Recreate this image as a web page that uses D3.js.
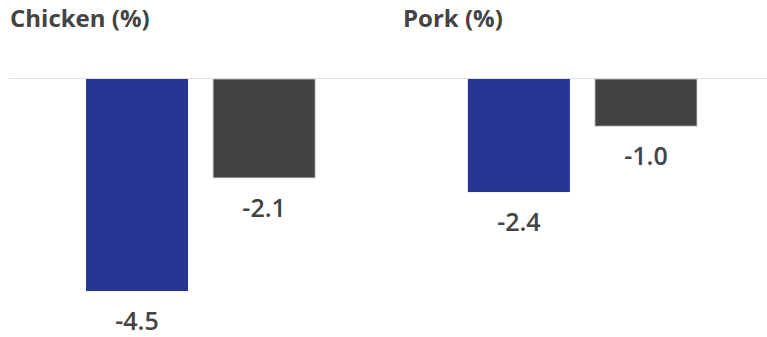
<!DOCTYPE html>
<html>
<head>
<meta charset="utf-8">
<script src="https://cdn.jsdelivr.net/npm/d3@7"></script>
<style>
  html, body { margin: 0; padding: 0; background: #fff; }
  svg { display: block; }
  text { font-family: "Open Sans", sans-serif; fill: #444; }
</style>
</head>
<body>
<svg id="chart" width="767" height="337"></svg>
<script>
// Panels and their values (% change)
const categories = ["Chicken (%)", "Pork (%)"];
const seriesKeys = ["a", "b"];
const seriesA = [-4.5, -2.4];
const seriesB = [-2.1, -1.0];
const seriesColors = ["#283593", "#424242"];

const rows = categories.map((c, i) => ({ category: c, values: [seriesA[i], seriesB[i]] }));

const svg = d3.select("#chart");
const width = 767;

// Plain hyphen for negative numbers
const fmt = d3.formatLocale({ decimal: ".", thousands: ",", grouping: [3], currency: ["", ""], minus: "-" }).format(".1f");

// Outer scale places each panel, inner scale places bars within a panel
const x0 = d3.scaleBand().domain(categories).range([86, 697]).paddingInner(0.4).paddingOuter(0);
const x1 = d3.scaleBand().domain(seriesKeys).range([0, x0.bandwidth()]).paddingInner(0.197).paddingOuter(0);
const y = d3.scaleLinear().domain([0, -4.5]).range([79, 291]);

// Panel titles
const titleX = [10, 403];
svg.selectAll("text.title")
  .data(categories)
  .join("text")
  .attr("class", "title")
  .attr("x", (d, i) => titleX[i])
  .attr("y", 27)
  .attr("font-size", 24)
  .attr("font-weight", 700)
  .text(d => d);

// Zero line
svg.append("line")
  .attr("x1", 9).attr("x2", width)
  .attr("y1", y(0) - 0.5).attr("y2", y(0) - 0.5)
  .attr("stroke", "#e6dede").attr("stroke-width", 1);

const groups = svg.selectAll("g.panel")
  .data(rows)
  .join("g")
  .attr("class", "panel")
  .attr("transform", d => `translate(${x0(d.category)},0)`);

const bars = groups.selectAll("g.bar")
  .data(d => d.values.map((v, i) => ({ key: seriesKeys[i], value: v, color: seriesColors[i] })))
  .join("g")
  .attr("class", "bar");

bars.append("rect")
  .attr("x", d => x1(d.key))
  .attr("y", d => y(Math.max(0, d.value)))
  .attr("width", x1.bandwidth())
  .attr("height", d => Math.abs(y(d.value) - y(0)))
  .attr("fill", d => d.color)
  .attr("stroke", d => d.key === "b" ? "#cfcfcf" : "none")
  .attr("stroke-width", 0.8);

bars.append("text")
  .attr("x", d => x1(d.key) + x1.bandwidth() / 2)
  .attr("y", d => y(d.value) + 39)
  .attr("text-anchor", "middle")
  .attr("font-size", 25)
  .attr("font-weight", 600)
  .text(d => fmt(d.value));
</script>
</body>
</html>
